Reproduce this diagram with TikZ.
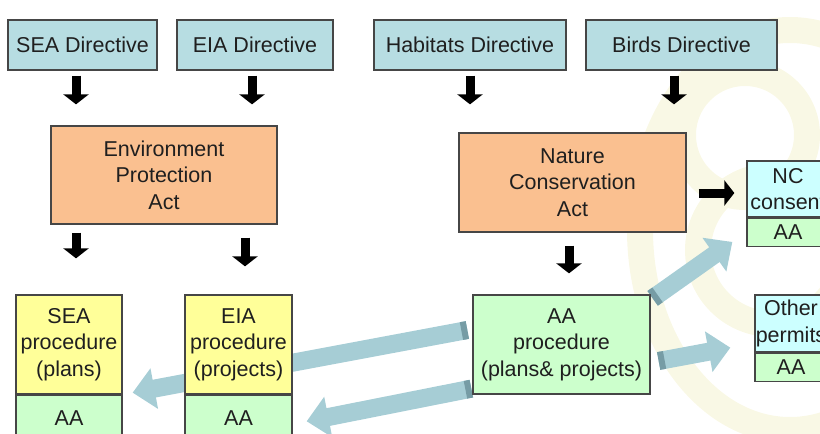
\documentclass[tikz,border=0pt]{standalone}
\usepackage{fontspec}
\setmainfont{Liberation Sans}
\usetikzlibrary{arrows.meta,positioning,calc,backgrounds}

\definecolor{dirblue}{RGB}{183,221,226}
\definecolor{actorange}{RGB}{250,192,144}
\definecolor{procyellow}{RGB}{255,255,153}
\definecolor{aagreen}{RGB}{204,255,204}
\definecolor{permcyan}{RGB}{204,255,255}
\definecolor{boxline}{RGB}{70,70,70}
\definecolor{arrblue}{RGB}{166,205,213}
\definecolor{arrtail}{RGB}{118,156,165}
\definecolor{swirl}{RGB}{249,248,229}

\tikzset{
  box/.style={draw=boxline,line width=1.3pt,inner sep=0pt,align=center,
    font=\fontsize{21.5pt}{26.5pt}\selectfont,text=black!88},
  dirbox/.style={box,fill=dirblue,minimum height=50pt},
  actbox/.style={box,fill=actorange},
  procbox/.style={box,fill=procyellow,minimum height=99pt},
  aabox/.style={box,fill=aagreen},
  permbox/.style={box,fill=permcyan},
  fat/.style={line width=9pt,shorten <=5pt,-{Triangle[length=10pt,width=25pt]}},
  broad/.style={line width=18pt,arrblue,-{Triangle[length=22pt,width=40pt]}},
  broadtail/.style={line width=18pt,arrtail},
  logo/.style={swirl,line width=26pt}
}

\begin{document}
\begin{tikzpicture}[x=1pt,y=-1pt]
  \useasboundingbox (0,0) rectangle (820,434);
  \clip (0,0) rectangle (820,434);

  % directives
  \node[dirbox,minimum width=149pt] (sead) at (82.5,45) {SEA Directive};
  \node[dirbox,minimum width=156pt] (eiad) at (255,45) {EIA Directive};
  \node[dirbox,minimum width=192pt] (habd) at (470,45) {Habitats Directive};
  \node[dirbox,minimum width=191pt] (birdd) at (681.5,45) {Birds Directive};

  % acts
  \node[actbox,minimum width=226pt,minimum height=98pt] (epa) at (164,175)
    {Environment\\Protection\\Act};
  \node[actbox,minimum width=227pt,minimum height=99pt] (nca) at (572.5,182.5)
    {Nature\\Conservation\\Act};

  % procedures
  \node[procbox,minimum width=106pt] (seap) at (69,344.5) {SEA\\procedure\\(plans)};
  \node[aabox,minimum width=106pt,minimum height=46pt,below=0pt of seap] (seaaa) {AA};
  \node[procbox,minimum width=107pt] (eiap) at (238.5,344.5) {EIA\\procedure\\(projects)};
  \node[aabox,minimum width=107pt,minimum height=46pt,below=0pt of eiap] (eiaaa) {AA};
  \node[aabox,minimum width=177pt,minimum height=99pt] (aap) at (561.5,344.5)
    {AA\\procedure\\(plans\& projects)};

  % consents
  \node[permbox,minimum width=82pt,minimum height=56pt] (ncc) at (788,189) {NC\\consent};
  \node[aabox,minimum width=82pt,minimum height=28pt,below=0pt of ncc] (ncaa) {AA};
  \node[permbox,minimum width=72pt,minimum height=57pt] (othp) at (791,323.5) {Other\\permits};
  \node[aabox,minimum width=72pt,minimum height=28pt,below=0pt of othp] (othaa) {AA};

  % black arrows
  \draw[fat,shorten >=21pt] ([xshift=-6.5pt]sead.south) -- ([xshift=-6.5pt]sead.south |- epa.north);
  \draw[fat,shorten >=21pt] ([xshift=-3pt]eiad.south) -- ([xshift=-3pt]eiad.south |- epa.north);
  \draw[fat,shorten >=28pt] (habd.south) -- (habd.south |- nca.north);
  \draw[fat,shorten >=28pt] ([xshift=-7.5pt]birdd.south) -- ([xshift=-7.5pt]birdd.south |- nca.north);
  \draw[fat,shorten <=8pt,shorten >=36pt] ([xshift=-88pt]epa.south) -- ([xshift=-88pt]epa.south |- seap.north);
  \draw[fat,shorten <=13pt,shorten >=28pt] ([xshift=81pt]epa.south) -- ([xshift=81pt]epa.south |- eiap.north);
  \draw[fat,shorten <=13pt,shorten >=21pt] ([xshift=-3.5pt]nca.south) -- ([xshift=-3.5pt]nca.south |- aap.north);
  \draw[fat,shorten <=12pt,shorten >=12pt] ([yshift=-10.5pt]nca.east) -- ([yshift=-10.5pt]nca.east -| ncc.west);

  \begin{scope}[on background layer]
    % faint logo
    \draw[logo] (790,230) ellipse [x radius=150pt,y radius=200pt];
    \draw[logo] (745,135) circle [radius=62pt];
    \draw[logo] (772,250) circle [radius=74pt];

    % AA links
    \coordinate (t1) at ([xshift=-5pt,yshift=14.5pt]aap.west);
    \coordinate (h1) at ([xshift=10pt,yshift=2pt]seaaa.north east);
    \coordinate (t2) at ([xshift=-1pt,yshift=6pt]aap.south west);
    \coordinate (h2) at ([xshift=14pt,yshift=-3pt]eiaaa.east);
    \coordinate (t3) at ([xshift=2pt,yshift=-4pt]aap.north east);
    \coordinate (h3) at ([xshift=-14pt,yshift=5pt]ncaa.south west);
    \coordinate (t4) at ([xshift=8pt,yshift=-16.5pt]aap.east);
    \coordinate (h4) at ([xshift=-24pt,yshift=5pt]othp.south west);
    \foreach \a/\b in {t1/h1,t2/h2,t3/h3,t4/h4} {
      \draw[broad] (\a) -- (\b);
      \draw[broadtail] (\a) -- ($(\a)!6pt!(\b)$);
    }
  \end{scope}
\end{tikzpicture}
\end{document}
